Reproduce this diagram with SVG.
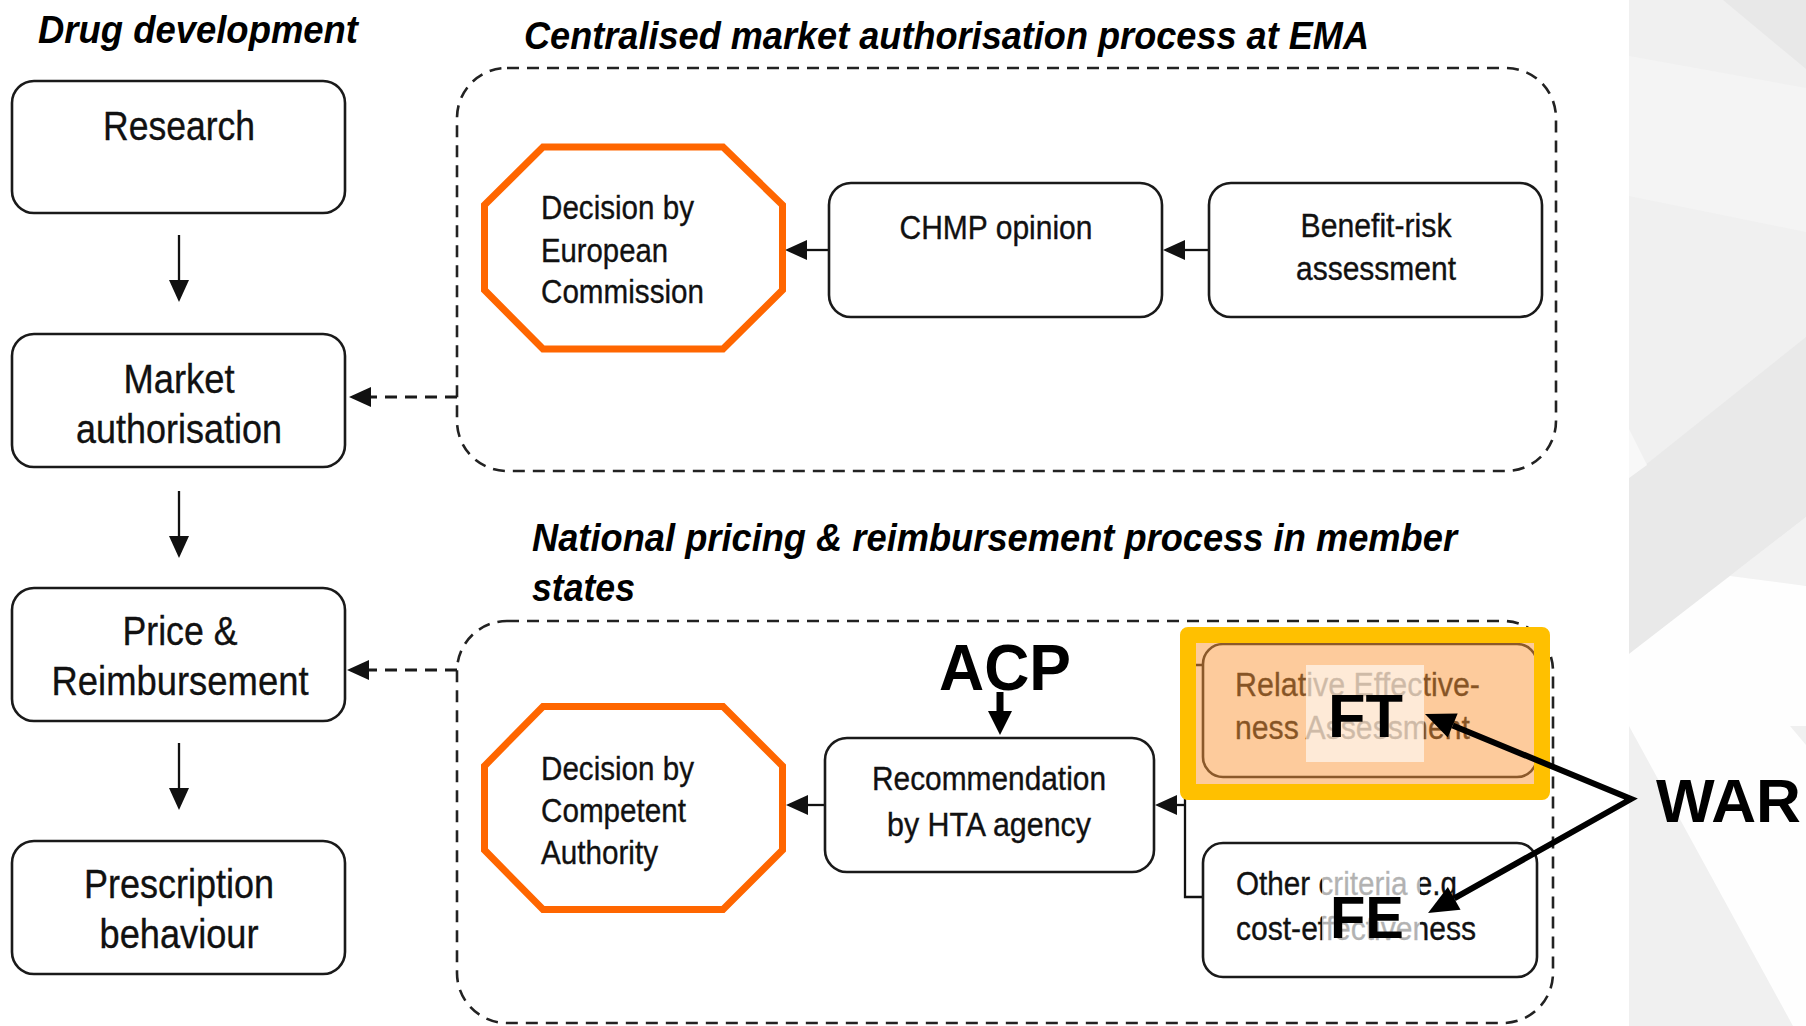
<svg xmlns="http://www.w3.org/2000/svg" width="1806" height="1026" viewBox="0 0 1806 1026">
  <style>
    .t{font-family:"Liberation Sans Narrow","Liberation Sans",Arial,sans-serif;fill:#111;stroke:#111;stroke-width:0.35}
    .lg{font-size:41px}
    .md{font-size:33px}
    .title{font-family:"Liberation Sans Narrow","Liberation Sans",Arial,sans-serif;font-weight:bold;font-style:italic;font-size:38px;fill:#000}
    .box{fill:#fff;stroke:#1a1a1a;stroke-width:2.6}
    .oct{fill:#fff;stroke:#FF6600;stroke-width:7;stroke-linejoin:miter}
    .frame{fill:none;stroke:#222;stroke-width:2.6;stroke-dasharray:12 8}
    .ln{fill:none;stroke:#111;stroke-width:2.3}
    .dl{fill:none;stroke:#1a1a1a;stroke-width:3;stroke-dasharray:12 8}
    .mark{font-family:"Liberation Sans",Arial,sans-serif;font-weight:bold;fill:#000}
  </style>
  <defs>
    <marker id="ah" markerUnits="userSpaceOnUse" markerWidth="22" markerHeight="20" refX="0" refY="10" orient="auto" overflow="visible">
      <path d="M0,0 L22,10 L0,20 z" fill="#111"/>
    </marker>
    <marker id="ahb" markerUnits="userSpaceOnUse" markerWidth="24" markerHeight="24" refX="0" refY="12" orient="auto" overflow="visible">
      <path d="M0,0 L24,12 L0,24 z" fill="#000"/>
    </marker>
    <marker id="ahw" markerUnits="userSpaceOnUse" markerWidth="30" markerHeight="26" refX="0" refY="13" orient="auto-start-reverse" overflow="visible">
      <path d="M0,0 L30,13 L0,26 z" fill="#000"/>
    </marker>
  </defs>

  <!-- page background -->
  <rect x="0" y="0" width="1806" height="1026" fill="#fff"/>

  <!-- decorative side panel -->
  <g id="side-panel">
    <rect x="1629" y="0" width="177" height="1026" fill="#F0F0F0"/>
    <polygon points="1723,0 1806,0 1806,69" fill="#E8E8E8"/>
    <polygon points="1629,56 1806,88 1806,232 1629,196" fill="#F4F4F4"/>
    <polygon points="1629,478 1806,337 1806,517 1629,654" fill="#E9E9E9"/>
    <polygon points="1629,429 1647,465 1629,478" fill="#F8F8F8"/>
    <polygon points="1730,576 1806,517 1806,586" fill="#F2F2F2"/>
    <polygon points="1629,654 1730,576 1806,586 1806,726 1790,726 1806,745 1806,1026 1793,1026 1629,726" fill="#FEFEFE"/>
  </g>

  <!-- headings -->
  <g id="headings">
    <text class="title" x="38" y="43" textLength="320" lengthAdjust="spacingAndGlyphs">Drug development</text>
    <text class="title" x="524" y="49" textLength="845" lengthAdjust="spacingAndGlyphs">Centralised market authorisation process at EMA</text>
    <text class="title" x="532" y="551" textLength="925" lengthAdjust="spacingAndGlyphs">National pricing &amp; reimbursement process in member</text>
    <text class="title" x="532" y="601" textLength="103" lengthAdjust="spacingAndGlyphs">states</text>
  </g>

  <!-- process containers -->
  <g id="ema-process">
    <rect class="frame" x="457" y="68" width="1099" height="403" rx="50"/>
  </g>
  <g id="national-process">
    <rect class="frame" x="457" y="621" width="1096" height="402" rx="50"/>
  </g>

  <!-- connectors -->
  <g id="connectors">
    <line class="ln" x1="179" y1="235" x2="179" y2="280" marker-end="url(#ah)"/>
    <line class="ln" x1="179" y1="491" x2="179" y2="536" marker-end="url(#ah)"/>
    <line class="ln" x1="179" y1="743" x2="179" y2="788" marker-end="url(#ah)"/>
    <line class="dl" x1="457" y1="397" x2="371" y2="397" marker-end="url(#ah)"/>
    <line class="dl" x1="457" y1="670" x2="369" y2="670" marker-end="url(#ah)"/>
    <line class="ln" x1="829" y1="250" x2="807" y2="250" marker-end="url(#ah)"/>
    <line class="ln" x1="1209" y1="250" x2="1185" y2="250" marker-end="url(#ah)"/>
    <line class="ln" x1="825" y1="805" x2="808" y2="805" marker-end="url(#ah)"/>
    <path class="ln" d="M1203,665 H1185 V897 H1203"/>
    <line class="ln" x1="1185" y1="805" x2="1177" y2="805" marker-end="url(#ah)"/>
  </g>

  <!-- drug development column -->
  <g id="research">
    <rect class="box" x="12" y="81" width="333" height="132" rx="22"/>
    <text class="t lg" x="179" y="140" text-anchor="middle" textLength="152" lengthAdjust="spacingAndGlyphs">Research</text>
  </g>
  <g id="market-authorisation">
    <rect class="box" x="12" y="334" width="333" height="133" rx="22"/>
    <text class="t lg" x="179" y="393" text-anchor="middle" textLength="111" lengthAdjust="spacingAndGlyphs">Market</text>
    <text class="t lg" x="179" y="443" text-anchor="middle" textLength="206" lengthAdjust="spacingAndGlyphs">authorisation</text>
  </g>
  <g id="price-reimbursement">
    <rect class="box" x="12" y="588" width="333" height="133" rx="22"/>
    <text class="t lg" x="180" y="645" text-anchor="middle" textLength="115" lengthAdjust="spacingAndGlyphs">Price &amp;</text>
    <text class="t lg" x="180" y="695" text-anchor="middle" textLength="257" lengthAdjust="spacingAndGlyphs">Reimbursement</text>
  </g>
  <g id="prescription-behaviour">
    <rect class="box" x="12" y="841" width="333" height="133" rx="22"/>
    <text class="t lg" x="179" y="898" text-anchor="middle" textLength="190" lengthAdjust="spacingAndGlyphs">Prescription</text>
    <text class="t lg" x="179" y="948" text-anchor="middle" textLength="159" lengthAdjust="spacingAndGlyphs">behaviour</text>
  </g>

  <!-- EMA process nodes -->
  <g id="decision-ec">
    <polygon class="oct" points="543,147 723,147 782.5,205 782.5,290 723,349 543,349 484.5,290 484.5,205"/>
    <text class="t md" x="541" y="219" textLength="153" lengthAdjust="spacingAndGlyphs">Decision by</text>
    <text class="t md" x="541" y="262" textLength="127" lengthAdjust="spacingAndGlyphs">European</text>
    <text class="t md" x="541" y="303" textLength="163" lengthAdjust="spacingAndGlyphs">Commission</text>
  </g>
  <g id="chmp-opinion">
    <rect class="box" x="829" y="183" width="333" height="134" rx="22"/>
    <text class="t md" x="996" y="239" text-anchor="middle" textLength="193" lengthAdjust="spacingAndGlyphs">CHMP opinion</text>
  </g>
  <g id="benefit-risk">
    <rect class="box" x="1209" y="183" width="333" height="134" rx="22"/>
    <text class="t md" x="1376" y="237" text-anchor="middle" textLength="151" lengthAdjust="spacingAndGlyphs">Benefit-risk</text>
    <text class="t md" x="1376" y="280" text-anchor="middle" textLength="160" lengthAdjust="spacingAndGlyphs">assessment</text>
  </g>

  <!-- national process nodes -->
  <g id="decision-ca">
    <polygon class="oct" points="543,706.5 723,706.5 782.5,766 782.5,850 723,909.5 543,909.5 484.5,850 484.5,766"/>
    <text class="t md" x="541" y="780" textLength="153" lengthAdjust="spacingAndGlyphs">Decision by</text>
    <text class="t md" x="541" y="822" textLength="145" lengthAdjust="spacingAndGlyphs">Competent</text>
    <text class="t md" x="541" y="864" textLength="117" lengthAdjust="spacingAndGlyphs">Authority</text>
  </g>
  <g id="hta-recommendation">
    <rect class="box" x="825" y="738" width="329" height="134" rx="22"/>
    <text class="t md" x="989" y="790" text-anchor="middle" textLength="234" lengthAdjust="spacingAndGlyphs">Recommendation</text>
    <text class="t md" x="989" y="836" text-anchor="middle" textLength="204" lengthAdjust="spacingAndGlyphs">by HTA agency</text>
  </g>
  <g id="relative-effectiveness">
    <rect class="box" x="1203" y="644" width="334" height="133" rx="20"/>
    <text class="t md" x="1235" y="696" textLength="245" lengthAdjust="spacingAndGlyphs">Relative Effective-</text>
    <text class="t md" x="1235" y="739" textLength="235" lengthAdjust="spacingAndGlyphs">ness Assessment</text>
  </g>
  <g id="other-criteria">
    <rect class="box" x="1203" y="843" width="334" height="134" rx="20"/>
    <text class="t md" x="1236" y="895" textLength="221" lengthAdjust="spacingAndGlyphs">Other criteria e.g</text>
    <text class="t md" x="1236" y="940" textLength="240" lengthAdjust="spacingAndGlyphs">cost-effectiveness</text>
  </g>

  <!-- highlight over the relative effectiveness step -->
  <g id="highlight">
    <rect x="1196" y="643" width="338" height="141" fill="#FB9739" fill-opacity="0.5"/>
    <rect x="1188" y="635" width="354" height="157" fill="none" stroke="#FFC000" stroke-width="16" stroke-linejoin="round"/>
    <rect x="1306" y="665" width="118" height="97" fill="#fff" fill-opacity="0.6"/>
    <rect x="1322" y="862" width="98" height="88" fill="#fff" fill-opacity="0.68"/>
  </g>

  <!-- annotations -->
  <g id="acp">
    <text class="mark" x="939" y="690" font-size="64" textLength="132" lengthAdjust="spacingAndGlyphs">ACP</text>
    <line x1="1000" y1="692" x2="1000" y2="711" stroke="#000" stroke-width="7" marker-end="url(#ahb)"/>
  </g>
  <g id="ft">
    <text class="mark" x="1328" y="737" font-size="61" textLength="75" lengthAdjust="spacingAndGlyphs">FT</text>
  </g>
  <g id="fe">
    <text class="mark" x="1330" y="938" font-size="60" textLength="74" lengthAdjust="spacingAndGlyphs">FE</text>
  </g>
  <g id="war">
    <text class="mark" x="1656" y="822" font-size="61" textLength="145" lengthAdjust="spacingAndGlyphs">WAR</text>
    <path d="M1452.7,725.4 L1631,799 L1454.2,898.3" fill="none" stroke="#000" stroke-width="6" stroke-linejoin="miter" marker-start="url(#ahw)" marker-end="url(#ahw)"/>
  </g>
</svg>
